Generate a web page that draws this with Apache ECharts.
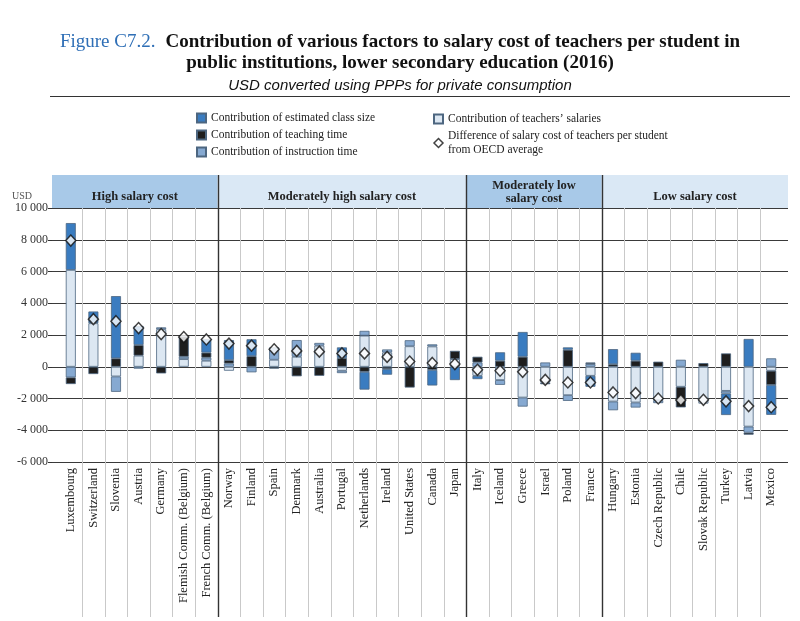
<!DOCTYPE html>
<html>
<head>
<meta charset="utf-8">
<script src="https://cdn.jsdelivr.net/npm/echarts@6/dist/echarts.min.js"></script>
<style>html,body{margin:0;padding:0;background:#fff}#c{width:800px;height:621px}</style>
</head>
<body>
<div id="c"></div>
<script>
// ---- data (USD, converted using PPPs) ----
var categories = ["Luxembourg","Switzerland","Slovenia","Austria","Germany","Flemish Comm. (Belgium)","French Comm. (Belgium)",
  "Norway","Finland","Spain","Denmark","Australia","Portugal","Netherlands","Ireland","United States","Canada","Japan",
  "Italy","Iceland","Greece","Israel","Poland","France",
  "Hungary","Estonia","Czech Republic","Chile","Slovak Republic","Turkey","Latvia","Mexico"];
var groups = [
  {name: "High salary cost", size: 7, dark: true},
  {name: "Moderately high salary cost", size: 11, dark: false},
  {name: "Moderately low\nsalary cost", size: 6, dark: true},
  {name: "Low salary cost", size: 8, dark: false}
];
var salaries    = [6100, 2740, -610, 700, 2360, 480, 380,  -250, 0, 440, 630, 1330, -250, 1960, 900, 1290, 1280, 480,  -570, -840, -1940, -1000, -1790, -570,  -2190, -2250, -2100, -1260, -2320, -1520, -3770, -250];
var instruction = [-670, 0, -970, -120, 120, 150, 190,  200, -350, 780, 1050, 170, -150, 300, 190, 380, 130, 0,  270, -300, -570, 270, -360, 170,  -550, -320, -190, 440, 0, -170, -380, 530];
var teaching    = [-420, -460, 530, 670, -420, 1280, 320,  220, 670, -120, -600, -570, 550, -320, -150, -1310, -200, 520,  360, 380, 630, -100, 1070, 100,  160, 380, 320, -1300, 230, 840, -130, -900];
var classSize   = [2950, 740, 3920, 1200, 0, 0, 860,  1260, 1060, 0, 0, 0, 670, -1120, -350, 0, -980, -840,  -210, 530, 1560, 0, 150, -690,  950, 500, 0, 0, 0, -1350, 1750, -1880];
var difference  = [7950, 3000, 2870, 2440, 2060, 1870, 1720,  1460, 1330, 1100, 1000, 950, 840, 840, 620, 330, 240, 170,  -190, -250, -320, -830, -990, -990,  -1620, -1660, -2000, -2100, -2080, -2180, -2480, -2550];
var yTicks = {min: -6000, max: 10000, interval: 2000};

var NAME_CLASS = "Contribution of estimated class size";
var NAME_TEACH = "Contribution of teaching time";
var NAME_INSTR = "Contribution of instruction time";
var NAME_SAL = "Contribution of teachers\u2019 salaries";
var NAME_DIFF = "Difference of salary cost of teachers per student\nfrom OECD average";

var SERIF = "Liberation Serif";
var chart = echarts.init(document.getElementById('c'));

function fmt(v){
  var s = Math.abs(v).toString();
  if (s.length > 3) s = s.slice(0, s.length-3) + ' ' + s.slice(s.length-3);
  return (v < 0 ? '-' : '') + s;
}
function barSeries(name, data, color){
  return {
    name: name, type: 'bar', stack: 'tot', xAxisIndex: 1, yAxisIndex: 1,
    barWidth: 10, data: data.map(function(v){ return v === 0 ? null : v; }),
    itemStyle: {color: color, borderColor: '#4d6680', borderWidth: 0.8},
    emphasis: {disabled: true}
  };
}

var option = {
  animation: false,
  backgroundColor: '#fff',
  title: [{
    text: '{a|Figure C7.2.}  {b|Contribution of various factors to salary cost of teachers per student in}\n{b|public institutions, lower secondary education (2016)}',
    left: 'center', top: 27,
    textStyle: {rich: {
      a: {color: '#2f6fb6', fontFamily: SERIF, fontSize: 19, fontWeight: 'normal', lineHeight: 21},
      b: {color: '#111', fontFamily: SERIF, fontSize: 19, fontWeight: 'bold', lineHeight: 21}
    }}
  }, {
    text: 'USD converted using PPPs for private consumption',
    left: 'center', top: 73,
    textStyle: {fontFamily: 'Liberation Sans Narrow, Liberation Sans', fontStyle: 'italic', fontWeight: 'normal', fontSize: 15, color: '#111'}
  }],
  legend: [{
    orient: 'vertical', left: 191, top: 107, itemWidth: 9, itemHeight: 9, itemGap: 5,
    icon: 'rect',
    data: [NAME_CLASS, NAME_TEACH, NAME_INSTR],
    textStyle: {fontFamily: SERIF, fontSize: 11.5, color: '#222'},
    selectedMode: false
  }, {
    orient: 'vertical', left: 428, top: 107, itemWidth: 9, itemHeight: 9, itemGap: 3,
    icon: 'rect',
    data: [NAME_SAL, {name: NAME_DIFF, icon: 'diamond', itemStyle:{color:'#fff', borderColor:'#111', borderWidth:1.5}}],
    textStyle: {fontFamily: SERIF, fontSize: 11.5, color: '#222', lineHeight: 14},
    selectedMode: false
  }],
  grid: [
    {left: 52, right: 12, top: 208, height: 254},
    {left: 59.5, right: 17.5, top: 208, height: 254}
  ],
  xAxis: [
    {type: 'value', gridIndex: 0, show: false, min: 0, max: 1},
    {type: 'category', gridIndex: 1, data: categories, boundaryGap: true,
     axisLine: {show: false}, axisTick: {show: false}, splitLine: {show: false},
     axisLabel: {rotate: 90, interval: 0, margin: 6, fontFamily: SERIF, fontSize: 12.5, color: '#222'}}
  ],
  yAxis: [
    {type: 'value', gridIndex: 0, min: yTicks.min, max: yTicks.max, interval: yTicks.interval,
     axisLine: {show: false}, axisTick: {show: true, length: 4, lineStyle: {color: '#333'}},
     axisLabel: {formatter: fmt, fontFamily: SERIF, fontSize: 12, color: '#333', margin: 4},
     splitLine: {show: true, lineStyle: {color: '#3a3a3a', width: 1}}},
    {type: 'value', gridIndex: 1, min: yTicks.min, max: yTicks.max, interval: yTicks.interval, show: false}
  ],
  series: [
    barSeries(NAME_SAL, salaries, '#dce7f2'),
    barSeries(NAME_INSTR, instruction, '#86a9d1'),
    barSeries(NAME_TEACH, teaching, '#1e1e1e'),
    barSeries(NAME_CLASS, classSize, '#3a7cc0'),
    {name: NAME_DIFF, type: 'scatter', xAxisIndex: 1, yAxisIndex: 1, data: difference,
     symbol: 'diamond', symbolSize: [10, 11], z: 5,
     itemStyle: {color: '#fff', borderColor: '#111', borderWidth: 1.5}}
  ]
};
chart.setOption(option);

// decorations computed from axes: header bands, separators
var c0 = chart.convertToPixel({xAxisIndex: 1}, categories[0]);
var c1 = chart.convertToPixel({xAxisIndex: 1}, categories[1]);
var cw = c1 - c0;
var yTop = chart.convertToPixel({yAxisIndex: 0}, yTicks.max);
var gLeft = 52, gRight = 800 - 12;
var bandTop = yTop - 33, lineBottom = 617;
var gfx = [];
var idx = 0;
groups.forEach(function(g, gi){
  var x0 = gi === 0 ? gLeft : chart.convertToPixel({xAxisIndex: 1}, categories[idx]) - cw/2;
  var last = idx + g.size - 1;
  var x1 = gi === groups.length-1 ? gRight : chart.convertToPixel({xAxisIndex: 1}, categories[last]) + cw/2;
  gfx.push({type: 'rect', shape: {x: x0, y: bandTop, width: x1 - x0, height: yTop - bandTop},
    style: {fill: g.dark ? '#a8c9e8' : '#dae8f5'}, z: 0, silent: true});
  gfx.push({type: 'text', x: (x0 + x1)/2, y: g.name.indexOf('\n') >= 0 ? bandTop + 17 : bandTop + 22,
    style: {text: g.name, fontFamily: SERIF, fontWeight: 'bold', fontSize: 12.5, fill: '#222',
      textAlign: 'center', textVerticalAlign: 'middle', lineHeight: 13}, z: 1, silent: true});
  for (var k = idx; k < last; k++) {
    var xs = Math.round(chart.convertToPixel({xAxisIndex: 1}, categories[k]) + cw/2) + 0.5;
    gfx.push({type: 'line', shape: {x1: xs, y1: yTop, x2: xs, y2: lineBottom},
      style: {stroke: '#c9c9c9', lineWidth: 1}, z: 0, silent: true});
  }
  if (gi < groups.length - 1) {
    var xd = Math.round(x1) + 0.5;
    gfx.push({type: 'line', shape: {x1: xd, y1: bandTop, x2: xd, y2: lineBottom},
      style: {stroke: '#333', lineWidth: 1.4}, z: 1, silent: true});
  }
  idx += g.size;
});
gfx.push({type: 'line', shape: {x1: 50, y1: 96.5, x2: 790, y2: 96.5}, style: {stroke: '#333', lineWidth: 1}, silent: true});
gfx.push({type: 'text', x: 22, y: 196, style: {text: 'USD', fontFamily: SERIF, fontSize: 10, fill: '#555', textAlign: 'center', textVerticalAlign: 'middle'}, silent: true});
chart.setOption({graphic: gfx});
</script>
</body>
</html>
